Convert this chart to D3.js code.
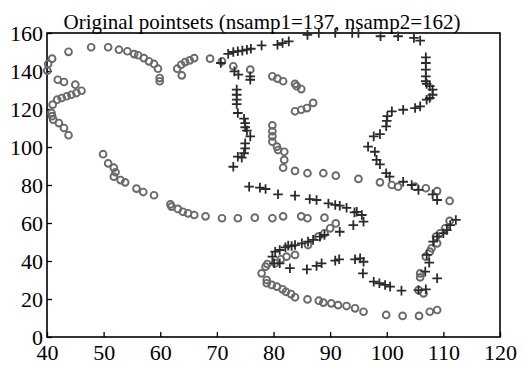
<!DOCTYPE html>
<html>
<head>
<meta charset="utf-8">
<script src="https://cdn.jsdelivr.net/npm/d3@7"></script>
<style>
  body { margin: 0; background: #fff; }
  text { font-family: "Liberation Serif", "Times New Roman", serif; }
</style>
</head>
<body>
<div id="chart"></div>
<script>
// point set 1 (circles)
const set1X = [
  40.9, 40.2, 40.05, 43.8, 47.8, 50.8, 52.7, 54.2, 55.4, 56.1, 57.1, 58.0, 58.9, 59.6, 59.9, 59.9,
  63.0, 63.7, 64.4, 65.2, 66.0, 63.8,
  41.9, 43.0, 45.0, 46.1, 45.2, 44.3, 43.5, 42.6, 41.8, 41.0, 40.8, 40.9, 41.1, 42.1, 43.0, 43.8,
  68.8, 70.9, 72.9, 75.9, 79.8, 80.7, 81.7, 83.8, 84.1, 84.9, 83.8, 84.9, 85.9, 87.0, 79.8, 79.8, 79.8,
  49.9, 50.8, 51.8, 52.1, 51.8, 53.0, 53.8, 55.8, 57.0, 58.9, 61.8, 62.0, 63.1, 64.0, 64.9, 66.0,
  79.8, 80.6, 80.8, 81.9, 81.9, 81.7, 83.8, 86.0, 88.8, 91.0, 95.0,
  68.0, 70.9, 73.7, 76.7, 79.8, 81.7, 84.9, 86.0, 89.0, 91.0, 90.0, 89.0, 87.9,
  86.1, 83.8, 82.3, 81.3, 80.3,
  78.9, 78.6, 77.9, 78.8, 78.8, 79.7, 80.6, 81.6, 82.2, 83.1, 83.8, 86.0, 88.0, 88.8, 90.2, 91.4, 92.9, 94.4,
  95.9, 99.9, 102.8, 105.7, 107.6, 108.9, 105.6, 106.5, 105.9, 105.9, 106.9, 107.6, 107.9, 108.9,
  98.8, 100.9, 102.0, 105.0, 106.9, 108.9, 111.1, 111.1, 110.3, 109.4, 108.7
];
const set1Y = [
  146.5, 143.7, 140.2, 150.1, 152.5, 152.5, 151.2, 150.4, 148.9, 148.3, 146.8, 145.1, 143.7, 141.2, 136.3, 134.6,
  141.2, 143.3, 144.7, 145.6, 146.8, 137.7,
  135.4, 134.2, 132.8, 129.6, 128.4, 127.5, 126.7, 125.8, 124.9, 122.3, 117.9, 116.2, 114.4, 112.6, 110.0, 106.2,
  146.5, 145.1, 142.5, 140.7, 137.2, 136.0, 134.6, 133.2, 132.0, 130.5, 118.8, 119.6, 120.5, 123.2, 111.4, 108.3, 105.6,
  96.2, 91.4, 89.1, 86.7, 84.4, 82.6, 81.4, 78.1, 76.3, 74.6, 69.8, 68.6, 67.4, 65.9, 65.1, 64.2,
  102.8, 100.2, 98.4, 97.5, 93.2, 89.1, 87.4, 86.2, 86.2, 84.9, 83.2,
  63.5, 62.5, 62.5, 62.8, 62.5, 63.5, 63.5, 62.5, 62.8, 59.8, 57.2, 54.6, 52.8,
  48.4, 43.2, 42.3, 40.9, 38.8,
  38.4, 37.0, 33.5, 30.0, 28.3, 27.4, 26.5, 25.1, 23.8, 22.6, 20.9, 19.8, 19.1, 18.1, 17.7, 16.8, 16.3, 15.1,
  13.3, 11.6, 11.1, 11.1, 13.3, 14.2, 24.7, 23.0, 33.5, 31.4, 42.3, 44.9, 46.7, 49.3,
  81.4, 80.0, 79.1, 79.1, 78.3, 76.8, 71.6, 61.1, 57.2, 54.6, 52.8
];

// point set 2 (plus signs)
const set2X = [
  86.0, 88.0, 90.9, 93.9, 95.0, 98.9, 102.0, 104.8, 105.9,
  72.0, 72.9, 73.7, 74.5, 75.3, 76.0, 77.9, 80.7, 81.6, 82.7, 70.7, 73.1, 73.8, 75.9, 75.9,
  73.5, 73.5, 73.5, 73.5, 73.7, 74.8, 75.0, 75.0, 75.3, 75.9,
  106.9, 106.9, 106.9, 106.9, 106.9, 107.05, 107.6, 108.1, 108.1, 107.6, 107.05,
  105.9, 105.0, 102.9, 100.9, 100.1, 100.0, 99.9, 98.8, 97.7,
  75.0, 75.0, 74.8, 73.7, 74.4, 72.9,
  75.7, 77.6, 78.6, 80.8, 83.8, 86.4, 87.6, 89.7, 90.9, 91.7, 92.9, 94.3,
  91.7, 89.0, 88.2, 87.0, 86.1, 85.0, 83.8, 82.6,
  96.7, 97.9, 98.2, 98.8, 99.9, 100.5, 102.9, 104.4, 105.6, 108.1, 108.9,
  94.7, 95.6, 95.9, 94.1, 112.2, 111.2, 110.6, 110.0, 108.9, 108.2,
  80.3, 81.1, 82.1, 83.2,
  79.8, 80.1, 81.1, 82.9, 85.9, 87.6, 88.5, 90.9, 91.6, 94.4,
  95.3, 95.9, 95.8, 97.7, 98.7, 99.7, 100.6, 102.6, 105.6, 106.9, 106.8, 107.5, 107.05, 108.9
];
const set2Y = [
  159.0, 160.0, 160.0, 160.0, 160.0, 158.3, 158.3, 157.4, 156.0,
  149.0, 150.0, 150.4, 150.7, 151.2, 151.7, 153.5, 153.8, 154.7, 155.6, 144.2, 139.8, 138.1, 137.2, 135.4,
  130.2, 127.5, 124.9, 122.6, 117.9, 114.9, 112.6, 110.4, 108.6, 105.6,
  147.2, 144.2, 140.7, 137.2, 134.6, 133.2, 132.0, 130.2, 127.5, 125.8, 124.9,
  121.4, 120.5, 119.6, 118.8, 116.2, 113.8, 110.9, 106.8, 105.6,
  101.9, 99.3, 96.7, 94.9, 94.4, 89.6,
  79.1, 78.6, 77.9, 75.1, 74.4, 72.6, 72.1, 70.3, 69.5, 69.1, 68.0, 65.6,
  55.4, 53.7, 52.8, 51.1, 50.2, 49.3, 48.4, 48.1,
  100.2, 97.5, 93.2, 90.9, 86.2, 84.4, 81.7, 80.0, 77.4, 75.1, 72.1,
  65.9, 64.2, 60.7, 58.9, 61.6, 58.9, 56.3, 54.6, 52.8, 50.2,
  44.9, 45.8, 47.2, 47.9,
  42.3, 38.8, 38.8, 36.2, 35.6, 37.4, 38.8, 40.2, 40.9, 40.9,
  41.4, 39.6, 33.5, 29.1, 28.3, 27.4, 26.5, 24.4, 24.7, 25.1, 34.4, 39.1, 43.2, 30.9
];

const xTicks = [40, 50, 60, 70, 80, 90, 100, 110, 120];
const yTicks = [0, 20, 40, 60, 80, 100, 120, 140, 160];
const title = "Original pointsets (nsamp1=137, nsamp2=162)";

const width = 523, height = 365;
const margin = { top: 33, right: 23, bottom: 28, left: 47 };
const innerWidth = width - margin.left - margin.right;
const innerHeight = height - margin.top - margin.bottom;

const svg = d3.select("#chart").append("svg")
  .attr("width", width)
  .attr("height", height);

const g = svg.append("g")
  .attr("transform", `translate(${margin.left},${margin.top})`);

const x = d3.scaleLinear().domain([40, 120]).range([0, innerWidth]);
const y = d3.scaleLinear().domain([0, 160]).range([innerHeight, 0]);

// axes, ticks pointing inward
const xAxis = g.append("g")
  .attr("transform", `translate(0,${innerHeight})`)
  .call(d3.axisBottom(x).tickValues(xTicks).tickSizeInner(-5).tickSizeOuter(0).tickPadding(7));
const yAxis = g.append("g")
  .call(d3.axisLeft(y).tickValues(yTicks).tickSizeInner(-5).tickSizeOuter(0).tickPadding(4));

[xAxis, yAxis].forEach(a => {
  a.select(".domain").remove();
  a.selectAll("line").attr("stroke", "#000").attr("stroke-width", 1.3);
  a.selectAll("text")
    .attr("fill", "#000")
    .style("font-family", '"Liberation Serif", serif')
    .style("font-size", "22px");
});

// frame
g.append("rect")
  .attr("width", innerWidth)
  .attr("height", innerHeight)
  .attr("fill", "none")
  .attr("stroke", "#000")
  .attr("stroke-width", 1.6);

// circles
const pts1 = set1X.map((v, i) => [v, set1Y[i]]);
g.selectAll(".c1").data(pts1).enter().append("circle")
  .attr("class", "c1")
  .attr("cx", d => x(d[0]))
  .attr("cy", d => y(d[1]))
  .attr("r", 3.4)
  .attr("fill", "none")
  .attr("stroke", "#6a6a6a")
  .attr("stroke-width", 1.9);

// plus signs
const pts2 = set2X.map((v, i) => [v, set2Y[i]]);
const s = 4.8;
g.selectAll(".p2").data(pts2).enter().append("path")
  .attr("class", "p2")
  .attr("d", d => {
    const cx = x(d[0]), cy = y(d[1]);
    return `M${cx - s},${cy}H${cx + s}M${cx},${cy - s}V${cy + s}`;
  })
  .attr("fill", "none")
  .attr("stroke", "#2b2b2b")
  .attr("stroke-width", 1.8);

svg.append("text")
  .attr("x", 262)
  .attr("y", 29)
  .attr("text-anchor", "middle")
  .style("font-size", "21px")
  .attr("fill", "#000")
  .text(title);
</script>
</body>
</html>
